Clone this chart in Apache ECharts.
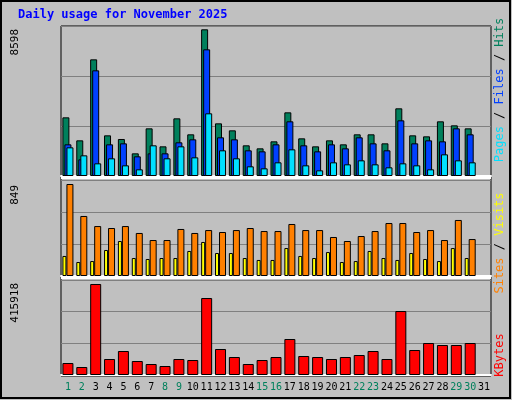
<!DOCTYPE html>
<html><head><meta charset="utf-8">
<script src="https://cdn.jsdelivr.net/npm/echarts@6/dist/echarts.min.js"></script>
<style>html,body{margin:0;background:#c0c0c0}#c{width:512px;height:400px}</style>
</head><body><div id="c"></div>
<script>
var days = [];
for (var d = 1; d <= 31; d++) days.push(String(d));
var weekend = ['1','2','8','9','15','16','22','23','29','30'];
var hits = [3439,2091,6839,2384,2169,1329,2794,1739,3380,2443,8598,3087,2677,1798,1622,2032,3732,2208,1739,2091,1856,2443,2443,1915,3967,2384,2325,3205,2970,2794];
var files = [1856,977,6194,1856,1915,1153,1329,1329,1974,2149,7425,2267,2149,1505,1446,1856,3205,1798,1446,1856,1622,2267,1915,1505,3263,1915,2091,2032,2794,2443];
var pages = [1680,1211,742,1036,625,391,1798,1036,1739,1094,3674,1505,1036,567,449,801,1563,625,332,801,684,918,684,508,742,625,391,1270,918,801];
var sites = [849,554,461,443,461,397,332,332,434,397,424,406,424,443,415,415,480,424,424,360,323,369,415,489,489,406,424,332,517,341];
var visits = [185,129,138,240,323,166,157,166,166,231,314,212,212,166,148,148,258,185,166,221,129,138,231,166,148,212,157,138,258,166];
var kbytes = [54800,36550,415918,73100,109650,63970,50260,41120,73100,68540,351800,118800,82240,50260,68540,82240,164500,86810,82240,73100,82240,91380,109650,73100,292400,114200,146200,137100,137100,146200];
var maxLabels = ['8598', '849', '415918'];

var font = 'DejaVu Sans Mono';
var grids = [
  {left: 61, width: 430, top: 26, height: 150},
  {left: 61, width: 430, top: 180, height: 96},
  {left: 61, width: 430, top: 280, height: 95}
];
function xAx(i, show) {
  return {type: 'category', gridIndex: i, data: days,
    axisLine: {show: true, lineStyle: {color: '#fff', width: 2}}, axisTick: {show: false},
    axisLabel: {show: show, interval: 0, margin: 7, fontFamily: font, fontSize: 10,
      color: function (v) { return weekend.indexOf(v) >= 0 ? '#00805c' : '#000'; }}};
}
function yAx(i, max) {
  return {type: 'value', gridIndex: i, min: 0, max: max, interval: max / 3,
    axisLabel: {show: false}, axisLine: {show: false}, axisTick: {show: false},
    splitLine: {show: true, lineStyle: {color: '#808080', width: 1}}};
}
function bar(name, data, color, xi, w, gap) {
  return {name: name, type: 'bar', data: data, xAxisIndex: xi, yAxisIndex: xi,
    barWidth: w, barGap: gap, animation: false,
    itemStyle: {color: color, borderColor: '#000', borderWidth: 1}};
}
function vtext(x, y, parts) {
  var rich = {}, txt = [];
  parts.forEach(function (p, k) { rich['p' + k] = {fill: p[1], fontFamily: font, fontSize: 12}; txt.push('{p' + k + '|' + p[0] + '}'); });
  return {type: 'text', x: x, y: y, rotation: Math.PI / 2,
    style: {text: txt.join(''), rich: rich, align: 'center', verticalAlign: 'middle'}};
}
function ylab(y, t) {
  return {type: 'text', x: 15, y: y, rotation: Math.PI / 2,
    style: {text: t, fill: '#000', fontFamily: font, fontSize: 11, align: 'right', verticalAlign: 'middle'}};
}
var chart = echarts.init(document.getElementById('c'));
chart.setOption({
  backgroundColor: '#c0c0c0',
  grid: grids,
  xAxis: [xAx(0, false), xAx(1, false), xAx(2, true)],
  yAxis: [yAx(0, 8793), yAx(1, 886), yAx(2, 434200)],
  series: [
    bar('Hits', hits, '#00805c', 0, 7, '-71%'),
    bar('Files', files, '#0040ff', 0, 7, '-71%'),
    bar('Pages', pages, '#00e0ff', 0, 7, '-71%'),
    bar('Visits', visits, '#ffff00', 1, 4, '0%'),
    bar('Sites', sites, '#ff8000', 1, 7, '0%'),
    bar('KBytes', kbytes, '#ff0000', 2, 11, '0%')
  ],
  graphic: [
    {type: 'rect', shape: {x: 1, y: 1, width: 509, height: 397}, style: {fill: 'none', stroke: '#000', lineWidth: 2}, z: -1},
    {type: 'rect', shape: {x: 61, y: 26, width: 430, height: 350}, style: {fill: 'none', stroke: '#000', lineWidth: 1}, z: -1},
    {type: 'line', shape: {x1: 61, y1: 178, x2: 491, y2: 178}, style: {stroke: '#fff', lineWidth: 2}},
    {type: 'line', shape: {x1: 61, y1: 278, x2: 491, y2: 278}, style: {stroke: '#fff', lineWidth: 2}},
    {type: 'text', x: 18, y: 9, style: {text: 'Daily usage for November 2025', fill: '#0000ff', fontFamily: font, fontSize: 12, fontWeight: 'bold'}},
    ylab(29, maxLabels[0]),
    ylab(185, maxLabels[1]),
    ylab(283, maxLabels[2]),
    vtext(500, 90, [['Pages', '#00e0ff'], [' / ', '#000'], ['Files', '#0040ff'], [' / ', '#000'], ['Hits', '#00805c']]),
    vtext(500, 243, [['Sites', '#ff8000'], [' / ', '#000'], ['Visits', '#ffff00']]),
    vtext(500, 355, [['KBytes', '#ff0000']])
  ]
});
</script></body></html>
